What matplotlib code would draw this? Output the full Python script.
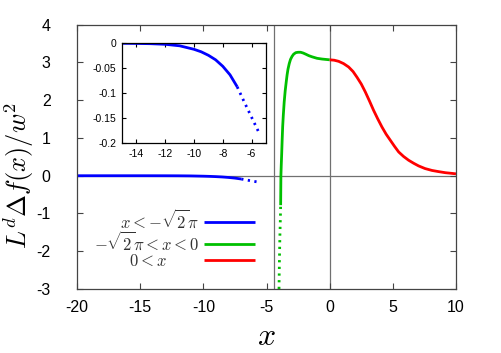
import numpy as np
import matplotlib
matplotlib.use("Agg")
import matplotlib.pyplot as plt

plt.rcParams['font.family'] = ['Liberation Sans', 'DejaVu Sans']
plt.rcParams['mathtext.fontset'] = 'cm'

# ---- data ----
blue_solid_x = [-20, -17, -15, -14, -13, -12, -11, -10, -9.5, -9, -8.5, -8, -7.5, -7]
blue_solid_y = [0, 0, 0, -0.0003, -0.0008, -0.002, -0.005, -0.012, -0.017, -0.024, -0.033, -0.046, -0.063, -0.087]
blue_dot_x = [-7, -6.5, -6, -5.5]
blue_dot_y = [-0.087, -0.118, -0.148, -0.178]

green_dot_x = [-4.01, -3.98, -3.94, -3.90, -3.88]
green_dot_y = [-3.0, -2.3, -1.6, -1.1, -0.78]
green_solid_x = [-3.88, -3.86, -3.83, -3.80, -3.76, -3.72, -3.67, -3.60, -3.52, -3.44, -3.37, -3.30,
                 -3.20, -3.10, -2.98, -2.85, -2.68, -2.50, -2.30, -2.10, -1.90, -1.65, -1.40, -1.00,
                 -0.60, -0.30, 0.0]
green_solid_y = [-0.78, 0.0, 0.30, 0.56, 0.95, 1.30, 1.60, 1.95, 2.25, 2.48, 2.67, 2.82,
                 2.97, 3.08, 3.16, 3.22, 3.26, 3.27, 3.27, 3.25, 3.22, 3.18, 3.15, 3.11,
                 3.09, 3.08, 3.07]

red_x = [0, 0.35, 0.71, 1.1, 1.5, 1.85, 2.16, 2.5, 2.82, 3.15, 3.48, 3.8, 4.14, 4.47, 4.80,
         5.13, 5.46, 5.85, 6.25, 6.65, 7.04, 7.55, 8.10, 8.6, 9.16, 9.6, 10]
red_y = [3.07, 3.06, 3.03, 2.97, 2.88, 2.76, 2.61, 2.43, 2.22, 1.98, 1.73, 1.51, 1.29, 1.10, 0.94,
         0.78, 0.63, 0.51, 0.41, 0.33, 0.26, 0.19, 0.14, 0.11, 0.08, 0.065, 0.05]

labels = [r'$x<-\sqrt{2}\pi$', r'$-\sqrt{2}\pi<x<0$', r'$0<x$']
xticks = [-20, -15, -10, -5, 0, 5, 10]
yticks = [-3, -2, -1, 0, 1, 2, 3, 4]
inset_xticks = [-14, -12, -10, -8, -6]
inset_yticks = [0, -0.05, -0.1, -0.15, -0.2]
ytick_labels_inset = ['0', '-0.05', '-0.1', '-0.15', '-0.2']

BLUE = '#0000ff'
GREEN = '#00c000'
RED = '#ff0000'
GRAY = '#707070'
DOT = (0, (0.8, 1.6))

fig = plt.figure(figsize=(5.02, 3.53), dpi=100)
W, H = 502, 353
ax = fig.add_axes([77 / W, 1 - 289 / H, (456 - 77) / W, (289 - 24.7) / H])

ax.axvline(0, color=GRAY, lw=0.9, zorder=1)
ax.axvline(-np.sqrt(2) * np.pi, color=GRAY, lw=0.9, zorder=1)
ax.axhline(0, color=GRAY, lw=0.9, zorder=1)

lb, = ax.plot(blue_solid_x, blue_solid_y, color=BLUE, lw=2.0, label=labels[0], solid_capstyle='butt')
ax.plot(blue_dot_x, blue_dot_y, color=BLUE, lw=2.0, ls=DOT)
ax.plot(green_dot_x, green_dot_y, color=GREEN, lw=2.0, ls=DOT)
lg, = ax.plot(green_solid_x, green_solid_y, color=GREEN, lw=2.0, label=labels[1], solid_capstyle='butt')
lr, = ax.plot(red_x, red_y, color=RED, lw=2.0, label=labels[2], solid_capstyle='butt')

ax.set_xlim(-20, 10)
ax.set_ylim(-3, 4)
ax.set_xticks(xticks)
ax.set_yticks(yticks)
ax.set_xticklabels([str(v) for v in xticks])
ax.set_yticklabels([str(v) for v in yticks])
ax.tick_params(direction='in', top=True, right=True, length=4, width=0.8, color='#444444', labelsize=11.5)
ax.tick_params(axis='y', pad=19)
ax.tick_params(axis='x', pad=8)
for s in ax.spines.values():
    s.set_color('#444444')
    s.set_linewidth(0.9)

ax.set_xlabel(r'$x$', fontsize=23)
ax.xaxis.set_label_coords(0.5, -0.125)
ax.set_ylabel(r'$L^d\Delta f(x)/w^2$', fontsize=19)
ax.yaxis.set_label_coords(-0.108, 0.43)

leg = ax.legend(handles=[lb, lg, lr], loc='center right', bbox_to_anchor=(255 / W, 1 - 239 / H),
                bbox_transform=fig.transFigure, frameon=False, markerfirst=False, fontsize=12,
                handlelength=3.05, handletextpad=0.3, labelspacing=0.0, borderpad=0, borderaxespad=0)
for t in leg.get_texts():
    t.set_color('#333333')
leg.get_texts()[2].set_x(-32)

# ---- inset ----
axi = fig.add_axes([122 / W, 1 - 143.3 / H, (266 - 122) / W, (143.3 - 43.3) / H])
axi.plot(blue_solid_x, blue_solid_y, color=BLUE, lw=2.0, solid_capstyle='butt')
axi.plot(blue_dot_x, blue_dot_y, color=BLUE, lw=2.0, ls=DOT)
axi.set_xlim(-15, -5)
axi.set_ylim(-0.2, 0)
axi.set_xticks(inset_xticks)
axi.set_yticks(inset_yticks)
axi.set_xticklabels([str(v) for v in inset_xticks])
axi.set_yticklabels(ytick_labels_inset)
axi.tick_params(direction='in', top=True, right=True, length=3, width=0.8, labelsize=7.5, pad=4)
for s in axi.spines.values():
    s.set_color('black')
    s.set_linewidth(0.9)

fig.savefig('out.png', dpi=100)
